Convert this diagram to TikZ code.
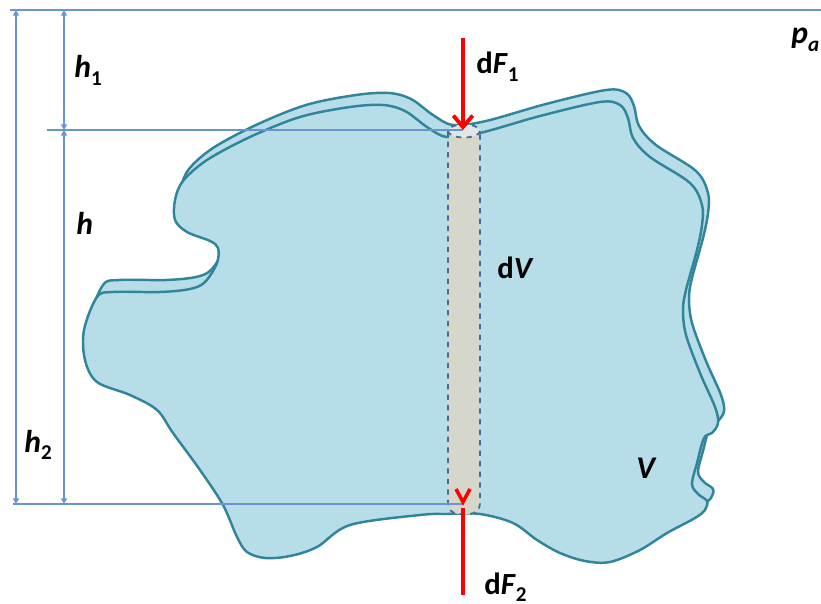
\documentclass[tikz,border=0pt]{standalone}
\usepackage{fontspec}
\setmainfont{Carlito}
\usetikzlibrary{arrows.meta}

\definecolor{liquid}{RGB}{183,221,232}
\definecolor{rim}{RGB}{49,133,155}
\definecolor{dimblue}{RGB}{105,148,210}
\definecolor{colgray}{RGB}{212,215,202}
\definecolor{coltop}{RGB}{222,232,228}
\definecolor{coledge}{RGB}{75,105,150}

\newcommand{\lowsub}[1]{\raisebox{-4pt}{\fontsize{12}{14}\selectfont #1}}
\newcommand{\lowsubs}[1]{\raisebox{-4pt}{\fontsize{12}{14}\selectfont #1}}

\tikzset{
  blob/.style={fill=liquid, draw=rim, line width=1.4pt},
  dimline/.style={draw=dimblue, line width=0.8pt},
  dimtip/.style={dimline, {Triangle[length=3.2pt,width=3.4pt]}-{Triangle[length=3.2pt,width=3.4pt]}},
  force/.style={draw=red, line width=2.2pt},
  biglbl/.style={anchor=base west, inner sep=0pt, font=\fontsize{18}{20}\selectfont\bfseries},
  smalllbl/.style={anchor=base west, inner sep=0pt, font=\fontsize{17.5}{20}\selectfont\bfseries}
}

\begin{document}
\begin{tikzpicture}[x=0.02cm, y=-0.02cm]

    \useasboundingbox (0,0) rectangle (821,604);
    \clip (0,0) rectangle (821,604);

    % body V, back rim first, then front face
    \foreach \dx/\dy in {6/-12, 0/0} {
      \filldraw[blob, shift={(\dx,\dy)}] plot[smooth cycle, tension=0.55] coordinates {
        (447,137) (480,133) (540,116) (600,102) (620,105) (628,118) (633,138)
        (650,157) (690,183) (702,205) (702,225) (697,250) (686,290) (683,310)
        (686,335) (700,373) (715,407) (718,423) (712,433) (704,438) (697,463)
        (692,484) (698,494) (707,501) (705,510) (695,518) (667,533) (640,550)
        (610,562) (585,561) (560,553) (537,540) (513,523) (480,514) (447,514)
        (420,515) (350,525) (317,547) (290,556) (265,558) (247,552) (237,537)
        (223,505) (200,470) (173,433) (157,410) (130,395) (97,382) (85,360)
        (84,330) (97,297) (113,292) (160,292) (190,289) (205,282) (217,263)
        (218,248) (210,241) (187,232) (175,220) (175,200) (183,181) (207,160)
        (250,137) (300,117) (350,107) (383,105) (405,111) (427,127)};
    }

    % column dV
    \fill[colgray, rounded corners=6] (448,131) -- (448,514) -- (480,514) -- (480,131) -- cycle;
    \draw[coledge, line width=1pt, dashed, rounded corners=6] (448,131) -- (448,514) -- (480,514) -- (480,131);
    \filldraw[fill=coltop, draw=coledge, line width=1pt, dashed] (464,131) ellipse [x radius=16, y radius=6.5];

    % reference levels
    \coordinate (free) at (10,10);
    \coordinate (freeend) at (821,10);
    \coordinate (toplvl) at (47,130);
    \coordinate (topmid) at (463,130);
    \coordinate (botlvl) at (13,504);
    \coordinate (botmid) at (463,504);
    \draw[dimline, line width=1pt] (free) -- (freeend);
    \draw[dimline, line width=0.6pt] (toplvl) -- (topmid);
    \draw[dimline, line width=0.6pt] (botlvl) -- (botmid);

    % h2
    \coordinate (outtop) at (16,10);
    \coordinate (outbot) at (16,504);
    \draw[dimtip] (outtop) -- (outbot);

    % h1 and h
    \coordinate (intop) at (64,10);
    \coordinate (inmid) at (64,130);
    \coordinate (inbot) at (64,504);
    \draw[dimtip] (intop) -- (inmid);
    \draw[dimtip] (inmid) -- (inbot);

    % dF1
    \coordinate (fonestart) at (463,38);
    \coordinate (foneend) at (463,130);
    \draw[force, -{Straight Barb[length=6.5pt,width=11pt]}] (fonestart) -- (foneend);

    % dF2
    \coordinate (ftwostart) at (463,595);
    \coordinate (ftwoend) at (463,508);
    \draw[force] (ftwostart) -- (ftwoend);
    \draw[force, line width=2pt, line join=miter] (456,489) -- (463,502) -- (470,489);

    % labels
    \node[biglbl] (hone) at (74,78) {\textit{h}\lowsub{1}};
    \node[biglbl] (hmid) at (76,235) {\textit{h}};
    \node[biglbl] (htwo) at (24,452) {\textit{h}\lowsub{2}};
    \node[smalllbl] (dfone) at (476,74) {d\textit{F}\lowsubs{1}};
    \node[smalllbl] (dvol) at (497,279) {d\textit{V}};
    \node[biglbl] (vol) at (636,478) {\textit{V}};
    \node[smalllbl] (dftwo) at (484,594) {d\textit{F}\lowsubs{2}};
    \node[biglbl] (patm) at (791,44) {\textit{p}\lowsub{\textit{a}}};

\end{tikzpicture}
\end{document}
